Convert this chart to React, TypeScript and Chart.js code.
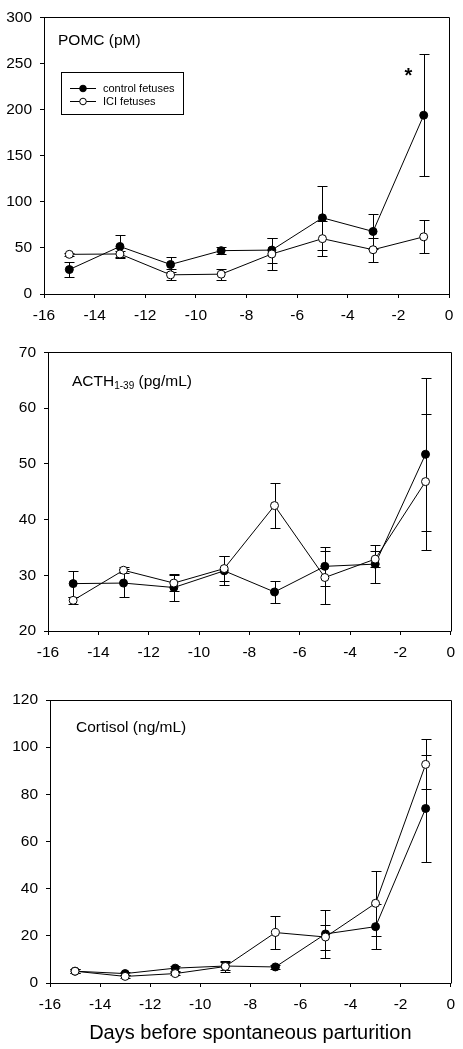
import React, { useEffect, useRef } from 'react';
import { Chart, registerables } from 'chart.js';

Chart.register(...registerables);

const FONT = "'Liberation Sans', Arial, Helvetica, sans-serif";
Chart.defaults.font.family = FONT;
Chart.defaults.color = '#000';

// ---------- data ----------
const days = [-15, -13, -11, -9, -7, -5, -3, -1];
const seriesLabels = ['control fetuses', 'ICI fetuses'];
const xAxisTitle = 'Days before spontaneous parturition';
const xMin = -16;
const xMax = 0;
const xStep = 2;

const pomcControl = [26.5, 51.5, 32, 47, 47.6, 82.6, 67.8, 193.8];
const pomcControlErr = [8, 12, 8, 3.5, 13.5, 35, 19, 66];
const pomcIci = [43, 43.4, 20.8, 21.5, 43.4, 60, 48, 62];
const pomcIciErr = [1.5, 3, 6, 6, 17, 18.7, 13, 18];
const pomcStar = { x: -1.6, y: 241 };

const acthControl = [28.5, 28.6, 27.8, 30.8, 27.0, 31.6, 32.0, 51.7];
const acthControlErr = [2.35, 2.5, 2.35, 2.6, 2.0, 3.5, 3.4, 13.7];
const acthIci = [25.5, 30.9, 28.6, 31.2, 42.5, 29.6, 32.9, 46.8];
const acthIciErr = [0.6, 0.5, 1.4, 2.3, 4.0, 4.7, 1.5, 12.2];

const cortControl = [5.0, 4.0, 6.3, 7.2, 6.8, 20.8, 23.9, 74.0];
const cortControlErr = [0.8, 0.8, 1.0, 1.5, 1.0, 10, 9.4, 22.6];
const cortIci = [5.0, 2.8, 4.0, 7.0, 21.4, 19.5, 33.8, 92.7];
const cortIciErr = [0.8, 0.6, 0.8, 2.5, 6.9, 5.3, 13.9, 10.6];

// ---------- layout ----------
type PanelSpec = {
  titleMain: string;
  titleSub: string;
  titleRest: string;
  yMin: number;
  yMax: number;
  yStep: number;
  control: number[];
  controlErr: number[];
  ici: number[];
  iciErr: number[];
  top: number;
  height: number;
  area: { left: number; top: number; right: number; bottom: number };
  titleOffset: { dx: number; dy: number };
  legend: boolean;
  star: { x: number; y: number } | null;
  xTitle: boolean;
};

const W = 463;
const TICK_SIZE = 15.5;

const panels: PanelSpec[] = [
  {
    titleMain: 'POMC (pM)', titleSub: '', titleRest: '',
    yMin: 0, yMax: 300, yStep: 50,
    control: pomcControl, controlErr: pomcControlErr, ici: pomcIci, iciErr: pomcIciErr,
    top: 0, height: 335,
    area: { left: 44, top: 11, right: 449, bottom: 294 },
    titleOffset: { dx: 14, dy: 22 },
    legend: true, star: pomcStar, xTitle: false,
  },
  {
    titleMain: 'ACTH', titleSub: '1-39', titleRest: ' (pg/mL)',
    yMin: 20, yMax: 70, yStep: 10,
    control: acthControl, controlErr: acthControlErr, ici: acthIci, iciErr: acthIciErr,
    top: 335, height: 345,
    area: { left: 48, top: 12, right: 452, bottom: 296 },
    titleOffset: { dx: 24, dy: 28 },
    legend: false, star: null, xTitle: false,
  },
  {
    titleMain: 'Cortisol (ng/mL)', titleSub: '', titleRest: '',
    yMin: 0, yMax: 120, yStep: 20,
    control: cortControl, controlErr: cortControlErr, ici: cortIci, iciErr: cortIciErr,
    top: 680, height: 369,
    area: { left: 50, top: 20, right: 455, bottom: 303 },
    titleOffset: { dx: 26, dy: 26 },
    legend: false, star: null, xTitle: true,
  },
];

function makeDecorPlugin(spec: PanelSpec) {
  return {
    id: 'panelDecor',
    beforeDatasetsDraw(chart: any) {
      const ctx = chart.ctx as CanvasRenderingContext2D;
      const xs = chart.scales.x;
      const ys = chart.scales.y;
      const sets = [
        { v: spec.control, e: spec.controlErr },
        { v: spec.ici, e: spec.iciErr },
      ];
      ctx.save();
      ctx.strokeStyle = '#000';
      ctx.lineWidth = 1;
      sets.forEach((s) => {
        days.forEach((d, i) => {
          const px = Math.round(xs.getPixelForValue(d)) + 0.5;
          const t = Math.round(ys.getPixelForValue(s.v[i] + s.e[i])) + 0.5;
          const b = Math.round(ys.getPixelForValue(s.v[i] - s.e[i])) + 0.5;
          ctx.beginPath();
          ctx.moveTo(px, t);
          ctx.lineTo(px, b);
          ctx.moveTo(px - 5, t);
          ctx.lineTo(px + 5, t);
          ctx.moveTo(px - 5, b);
          ctx.lineTo(px + 5, b);
          ctx.stroke();
        });
      });
      ctx.restore();
    },
    afterDraw(chart: any) {
      const ctx = chart.ctx as CanvasRenderingContext2D;
      const a = chart.chartArea;
      ctx.save();
      // frame
      ctx.strokeStyle = '#000';
      ctx.lineWidth = 1;
      const l = Math.round(a.left) + 0.5;
      const t = Math.round(a.top) + 0.5;
      const r = Math.round(a.right) + 0.5;
      const b = Math.round(a.bottom) + 0.5;
      ctx.beginPath();
      ctx.moveTo(l, b);
      ctx.lineTo(l, t);
      ctx.lineTo(r, t);
      ctx.lineTo(r, b);
      ctx.stroke();

      // title
      ctx.fillStyle = '#000';
      ctx.textBaseline = 'alphabetic';
      ctx.textAlign = 'left';
      ctx.font = `15.5px ${FONT}`;
      let tx = a.left + spec.titleOffset.dx;
      const ty = a.top + spec.titleOffset.dy + 5.5;
      ctx.fillText(spec.titleMain, tx, ty);
      tx += ctx.measureText(spec.titleMain).width;
      if (spec.titleSub) {
        ctx.font = `10px ${FONT}`;
        ctx.fillText(spec.titleSub, tx, ty + 3.5);
        tx += ctx.measureText(spec.titleSub).width;
        ctx.font = `15.5px ${FONT}`;
      }
      if (spec.titleRest) ctx.fillText(spec.titleRest, tx, ty);

      // legend
      if (spec.legend) {
        const bx = a.left + 17;
        const by = a.top + 55;
        ctx.strokeRect(Math.round(bx) + 0.5, Math.round(by) + 0.5, 122, 42);
        ctx.font = `11px ${FONT}`;
        ctx.textBaseline = 'middle';
        seriesLabels.forEach((lab, i) => {
          const ly = Math.round(by + 16 + i * 13) + 0.5;
          ctx.beginPath();
          ctx.moveTo(bx + 9, ly);
          ctx.lineTo(bx + 35, ly);
          ctx.stroke();
          ctx.beginPath();
          ctx.arc(bx + 22, ly, 3.3, 0, Math.PI * 2);
          ctx.fillStyle = i === 0 ? '#000' : '#fff';
          ctx.fill();
          ctx.stroke();
          ctx.fillStyle = '#000';
          ctx.fillText(lab, bx + 42, ly + 0.5);
        });
      }

      // significance star
      if (spec.star) {
        const sx = chart.scales.x.getPixelForValue(spec.star.x);
        const sy = chart.scales.y.getPixelForValue(spec.star.y);
        ctx.font = `bold 20px ${FONT}`;
        ctx.textAlign = 'center';
        ctx.textBaseline = 'alphabetic';
        const m = ctx.measureText('*');
        const off = (m.actualBoundingBoxAscent - m.actualBoundingBoxDescent) / 2;
        ctx.fillText('*', sx, sy + off);
      }
      ctx.restore();
    },
  };
}

function ChartPanel({ spec }: { spec: PanelSpec }) {
  const ref = useRef<HTMLCanvasElement>(null);
  useEffect(() => {
    const canvas = ref.current;
    if (!canvas) return;
    const toPts = (v: number[]) => days.map((d, i) => ({ x: d, y: v[i] }));
    const chart = new Chart(canvas, {
      type: 'line',
      data: {
        datasets: [
          {
            label: seriesLabels[0],
            data: toPts(spec.control),
            borderColor: '#000',
            borderWidth: 1,
            pointRadius: 4,
            pointBorderWidth: 1,
            pointBackgroundColor: '#000',
            pointBorderColor: '#000',
            tension: 0,
            order: 2,
          },
          {
            label: seriesLabels[1],
            data: toPts(spec.ici),
            borderColor: '#000',
            borderWidth: 1,
            pointRadius: 4,
            pointBorderWidth: 1,
            pointBackgroundColor: '#fff',
            pointBorderColor: '#000',
            tension: 0,
            order: 1,
          },
        ],
      },
      options: {
        animation: false,
        responsive: false,
        events: [],
        layout: {
          padding: { left: 0, top: spec.area.top, right: W - spec.area.right, bottom: 0 },
        },
        plugins: {
          legend: { display: false },
          tooltip: { enabled: false },
          title: { display: false },
        },
        scales: {
          x: {
            type: 'linear',
            min: xMin,
            max: xMax,
            ticks: { stepSize: xStep, font: { size: TICK_SIZE, family: FONT }, color: '#000', padding: 8, maxRotation: 0 },
            grid: { drawOnChartArea: false, drawTicks: true, tickLength: 4, color: '#000', lineWidth: 1 },
            border: { display: true, color: '#000', width: 1 },
            title: {
              display: spec.xTitle,
              text: xAxisTitle,
              font: { size: 20, family: FONT },
              color: '#000',
              padding: { top: 4, bottom: 4 },
            },
            afterFit: (scale: any) => {
              scale.height = spec.height - spec.area.bottom;
            },
          },
          y: {
            type: 'linear',
            min: spec.yMin,
            max: spec.yMax,
            ticks: { stepSize: spec.yStep, font: { size: TICK_SIZE, family: FONT }, color: '#000', padding: 8 },
            grid: { drawOnChartArea: false, drawTicks: true, tickLength: 4, color: '#000', lineWidth: 1 },
            border: { display: true, color: '#000', width: 1 },
            afterFit: (scale: any) => {
              scale.width = spec.area.left;
            },
          },
        },
      } as any,
      plugins: [makeDecorPlugin(spec)],
    });
    return () => chart.destroy();
  }, [spec]);
  return (
    <canvas
      ref={ref}
      width={W}
      height={spec.height}
      style={{ position: 'absolute', left: 0, top: spec.top, width: W, height: spec.height }}
    />
  );
}

export default function App() {
  return (
    <div style={{ position: 'absolute', left: 0, top: 0, width: W, height: 1049, background: '#fff' }}>
      {panels.map((p, i) => (
        <ChartPanel key={i} spec={p} />
      ))}
    </div>
  );
}
